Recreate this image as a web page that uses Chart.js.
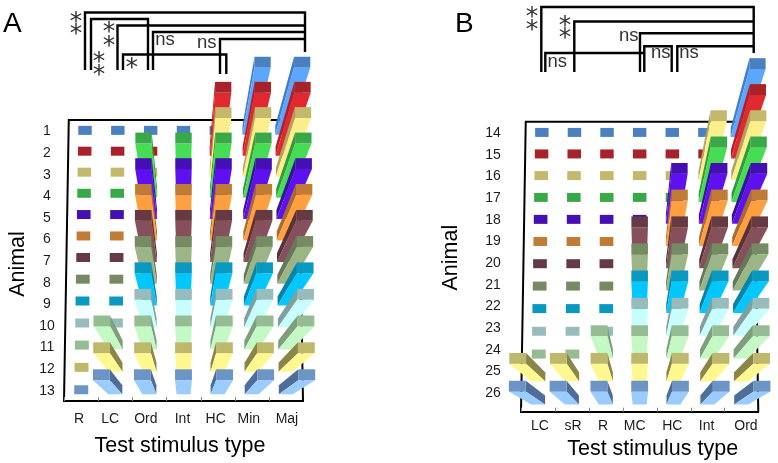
<!DOCTYPE html>
<html><head><meta charset="utf-8">
<style>html,body{margin:0;padding:0;background:#fff;width:778px;height:463px;overflow:hidden}
canvas{position:absolute;top:0}</style>
<script src="https://cdn.jsdelivr.net/npm/chart.js@4/dist/chart.umd.min.js"></script>
</head><body>
<canvas id="a" width="389" height="463" style="left:0"></canvas>
<canvas id="b" width="389" height="463" style="left:389px"></canvas>
<script>
// ---------- data: 1 = tall column, 0 = flat tile ----------
const animalsA = ['1','2','3','4','5','6','7','8','9','10','11','12','13'];
const stimuliA = ['R','LC','Ord','Int','HC','Min','Maj'];
const a_R   = [0,0,0,0,0,0,0,0,0,0,0,0,0];
const a_LC  = [0,0,0,0,0,0,0,0,0,0,1,1,1];
const a_Ord = [0,0,0,1,1,1,1,1,1,1,1,1,1];
const a_Int = [0,0,0,1,1,1,1,1,1,1,1,1,1];
const a_HC  = [0,1,1,1,1,1,1,1,1,1,1,1,1];
const a_Min = [1,1,1,1,1,1,1,1,1,1,1,1,1];
const a_Maj = [1,1,1,1,1,1,1,1,1,1,1,1,1];
const columnsA = [a_R,a_LC,a_Ord,a_Int,a_HC,a_Min,a_Maj];

const animalsB = ['14','15','16','17','18','19','20','21','22','23','24','25','26'];
const stimuliB = ['LC','sR','R','MC','HC','Int','Ord'];
const b_LC  = [0,0,0,0,0,0,0,0,0,0,0,1,1];
const b_sR  = [0,0,0,0,0,0,0,0,0,0,0,1,1];
const b_R   = [0,0,0,0,0,0,0,0,0,0,1,1,1];
const b_MC  = [0,0,0,0,0,0,1,1,1,1,1,1,1];
const b_HC  = [0,0,0,0,1,1,1,1,1,1,1,1,1];
const b_Int = [0,0,1,1,1,1,1,1,1,1,1,1,1];
const b_Ord = [1,1,1,1,1,1,1,1,1,1,1,1,1];
const columnsB = [b_LC,b_sR,b_R,b_MC,b_HC,b_Int,b_Ord];

// ---------- styles ----------
const topColors   = ['#4a80c0','#a8222a','#c4b86c','#38a848','#4410b4','#c07c34','#663a44','#768a64','#0898c0','#98bcbc','#96bc94','#beb86c','#6c94c4'];
const frontColors = ['#5ca6fb','#e0282e','#fdee8c','#46dc54','#5e10f0','#ffa040','#85505c','#9cb586','#00c8ff','#c8fdfd','#c4f8c4','#fff890','#9accff'];
const sideColors  = ['#3f7ed0','#b81c24','#b0a460','#309a40','#3a0ea0','#a86c2c','#58323a','#66785a','#0684aa','#80a0a0','#7e9e7c','#8a8648','#4c6e98'];
const FONT = '"Liberation Sans", Arial, sans-serif';
const TEXT = '#1c1c1c';

// ---------- custom 3D column controller using the library's parsed scale positions ----------
class Box3D extends Chart.ScatterController {
  draw() {
    const ctx = this.chart.ctx, area = this.chart.chartArea;
    const ds = this.getDataset(), pts = this.getMeta().data;
    const cx = (area.left + area.right) / 2, vy = ds.vanishY, K = 0.205;
    const order = pts.map((p,i)=>i).sort((i,j)=>Math.abs(pts[j].x-cx)-Math.abs(pts[i].x-cx));
    const poly = (c,p)=>{ctx.fillStyle=c;ctx.beginPath();p.forEach((q,i)=>i?ctx.lineTo(q[0],q[1]):ctx.moveTo(q[0],q[1]));ctx.closePath();ctx.fill();};
    for (const i of order) {
      const p = pts[i], h = ds.data[i].h;
      const t = (p.y-area.top)/(area.bottom-area.top);
      const s = 1-0.04*(1-t), gy = p.y-12*t*(1-t), gx = cx+(p.x-cx)*s;
      const hw = 7*s, hh = 4.5;
      const k = 1+K*h;
      const tp = (x,y)=>[cx+(x-cx)*k, vy+(y-vy)*k];
      const bTL=[gx-hw,gy-hh], bTR=[gx+hw,gy-hh], bBL=[gx-hw,gy+hh], bBR=[gx+hw,gy+hh];
      const tTL=tp(...bTL), tTR=tp(...bTR), tBL=tp(...bBL), tBR=tp(...bBR);
      if (h>0) {
        if (gx<cx-1) poly(ds.sideColor,[tTR,tBR,bBR,bTR]);
        else if (gx>cx+1) poly(ds.sideColor,[tTL,tBL,bBL,bTL]);
        poly(ds.frontColor,[tBL,tBR,bBR,bBL]);
      }
      poly(ds.topColor,[tTL,tTR,tBR,tBL]);
    }
  }
}
Box3D.id='box3d';
Box3D.defaults=Chart.ScatterController.defaults;
Chart.register(Box3D);

// ---------- annotations: [x1,y1,x2,y2,...] polylines in page pixels ----------
function annotate(chart, cfg){
  const ctx=chart.ctx, ox=cfg.originX;
  ctx.save();
  ctx.strokeStyle='#000';ctx.lineWidth=2.4;ctx.lineJoin='miter';
  for(const l of cfg.lines){ctx.beginPath();for(let i=0;i<l.length;i+=2){const x=l[i]-ox,y=l[i+1];i?ctx.lineTo(x,y):ctx.moveTo(x,y);}ctx.stroke();}
  ctx.fillStyle='#333';ctx.textAlign='center';ctx.textBaseline='alphabetic';
  ctx.font='25px "DejaVu Sans"';
  for(const [x,y] of cfg.stars){const m=ctx.measureText('*');const d=(m.actualBoundingBoxAscent-m.actualBoundingBoxDescent)/2;ctx.fillText('*',x-ox,y+d);}
  ctx.font='18.5px '+FONT;ctx.textBaseline='middle';
  for(const [x,y] of cfg.ns){ctx.fillText('ns',x-ox,y);}
  ctx.fillStyle='#000';ctx.font='28px '+FONT;ctx.textAlign='left';ctx.textBaseline='alphabetic';
  ctx.fillText(cfg.letter[0],cfg.letter[1]-ox,cfg.letter[2]);
  ctx.restore();
}
const framePlugin={id:'frame',
  beforeDraw(chart,_,o){
    const xs=chart.scales.x, ys=chart.scales.y;
    const it=xs.getLabelItems(); it.forEach((l,i)=>{l.textOffset=0;l.options.translation[0]+=o.xNudge[i];l.options.translation[1]=o.xLabelY;l.options.textBaseline='middle';});
    const iy=ys.getLabelItems(); iy.forEach((l,i)=>{l.options.translation[0]=o.yLabelX;l.options.translation[1]=o.yLabelStart+o.yLabelStep*i;l.options.textAlign='center';l.options.textBaseline='middle';});
  },
  beforeDatasetsDraw(chart){
    const {ctx,chartArea:a,scales:{x}}=chart, c=(a.left+a.right)/2, s=0.96;
    ctx.save();ctx.strokeStyle='#000';ctx.lineWidth=2;
    ctx.beginPath();ctx.moveTo(a.left,a.bottom);ctx.lineTo(c+(a.left-c)*s,a.top);ctx.lineTo(c+(a.right-c)*s,a.top);ctx.lineTo(a.right,a.bottom);ctx.stroke();
    ctx.strokeStyle='#888';ctx.lineWidth=1;
    for(let i=0;i<x.ticks.length;i++){const px=Math.round(x.getPixelForValue(i-0.5))+0.5;ctx.beginPath();ctx.moveTo(px,a.bottom);ctx.lineTo(px,a.bottom-4);ctx.stroke();}
    ctx.restore();
  },
  afterDraw(chart,_,o){annotate(chart,o.note);}
};
const shiftTitle=(dx,dy)=>s=>{if(s._shifted)return;s._shifted=true;const d=s.drawTitle;s.drawTitle=function(){const c=this.ctx;c.save();c.translate(dx,dy);d.call(this);c.restore();};};

function build(id,animals,stimuli,columns,geo,note){
  const datasets=animals.map((a,r)=>({
    label:'Animal '+a, order:animals.length-r, clip:false,
    topColor:topColors[r], frontColor:frontColors[r], sideColor:sideColors[r], vanishY:geo.vanishY,
    data:stimuli.map((st,c)=>({x:st,y:a,h:columns[c][r]}))
  }));
  return new Chart(document.getElementById(id),{type:'box3d',plugins:[framePlugin],
    data:{datasets},
    options:{responsive:false,animation:false,events:[],
      layout:{padding:{left:0,top:geo.top,right:389-geo.right,bottom:0}},
      plugins:{legend:{display:false},tooltip:{enabled:false},
        frame:{xNudge:geo.xNudge,xLabelY:geo.xLabelY,yLabelX:geo.yLabelX,yLabelStart:geo.yLabelStart,yLabelStep:geo.yLabelStep,note}},
      scales:{
        x:{type:'category',labels:stimuli,offset:true,position:'bottom',
          grid:{display:false},border:{display:true,color:'#000',width:2},
          ticks:{color:TEXT,font:{family:FONT,size:14},maxRotation:0,autoSkip:false},
          title:{display:true,text:'Test stimulus type',color:'#000',font:{family:FONT,size:21.5},padding:0},
          afterFit:s=>{s.height=463-geo.bottom;}, afterUpdate:shiftTitle(geo.xTitle[0],geo.xTitle[1])},
        y:{type:'category',labels:animals,offset:true,position:'left',
          grid:{display:false},border:{display:false},
          ticks:{color:TEXT,font:{family:FONT,size:14},autoSkip:false},
          title:{display:true,text:'Animal',color:'#000',font:{family:FONT,size:21.5},padding:0},
          afterFit:s=>{s.width=geo.left;}, afterUpdate:shiftTitle(geo.yTitle[0],geo.yTitle[1])}
      }}});
}

build('a',animalsA,stimuliA,columnsA,
 {left:64,right:303,top:120,bottom:401,vanishY:463,xNudge:[-2,-5,-3.5,-1,-2,-3,1],xLabelY:418.7,yLabelX:47,yLabelStart:131.6,yLabelStep:21.6,xTitle:[-3.5,-4.5],yTitle:[5,3.5]},
 {originX:0,letter:['A',3,32],
  lines:[[85,70,85,12.5,305,12.5,305,52],[91,70,91,19,148,19,148,70],[117.5,70,117.5,25.5,305,25.5],[153,70,153,32,305,32],[220,74,220,39,305,39],[123,70,123,54.5,226.3,54.5,226.3,74]],
  stars:[[76,16.7],[76,29.3],[109,27],[109,40.7],[99,57],[99,70],[131.7,63]],
  ns:[[165,40],[206.7,43.3]]});

build('b',animalsB,stimuliB,columnsB,
 {left:132,right:369.3,top:121.7,bottom:411.7,vanishY:468,xNudge:[2,1.3,-2.7,-5,-1.3,-0.8,4.6],xLabelY:426,yLabelX:104,yLabelStart:133,yLabelStep:21.67,xTitle:[13,-1],yTitle:[49,-9]},
 {originX:389,letter:['B',455,32],
  lines:[[541.3,72,541.3,7,753.7,7,753.7,53],[574.3,72,574.3,21.5,753.7,21.5],[640,72,640,33.3,753.7,33.3],[644.3,72,644.3,46.3,671.7,46.3,671.7,72],[677.3,72,677.3,46.3,753.7,46.3],[545.3,72,545.3,53,644,53]],
  stars:[[532,12.3],[532,25],[565,20.7],[565,33.3]],
  ns:[[557.3,61.7],[628.7,35.7],[660.7,53.3],[689,53.3]]});
</script>
</body></html>
